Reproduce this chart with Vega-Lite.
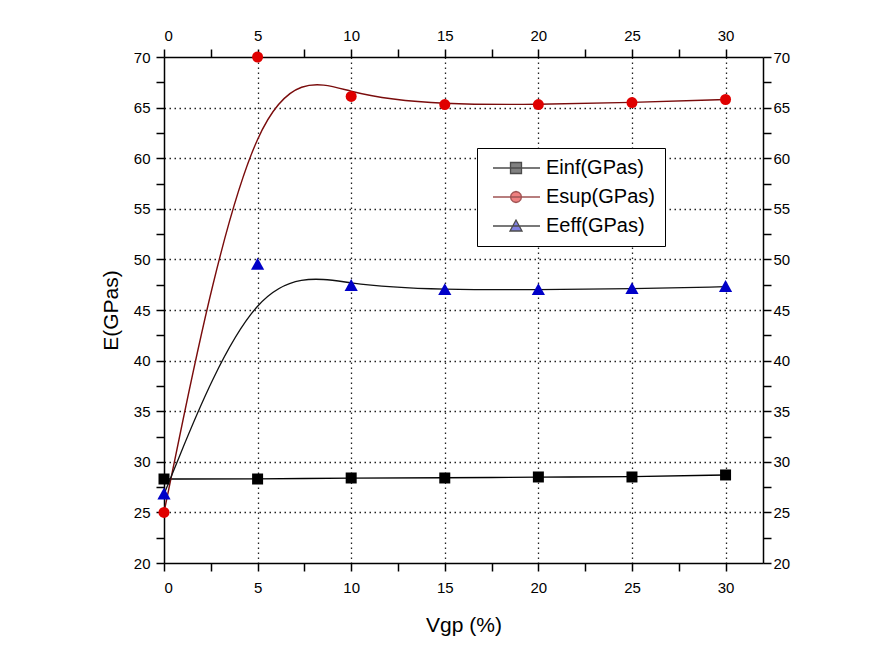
{
  "$schema": "https://vega.github.io/schema/vega-lite/v6.json",
  "width": 599,
  "height": 506,
  "autosize": {"type": "none"},
  "padding": {"left": 164, "top": 57, "right": 110, "bottom": 88},
  "background": "white",
  "data": {
    "values": [
      {"vgp": 0, "E": 28.3, "series": "Einf(GPas)"},
      {"vgp": 5, "E": 28.3, "series": "Einf(GPas)"},
      {"vgp": 10, "E": 28.4, "series": "Einf(GPas)"},
      {"vgp": 15, "E": 28.4, "series": "Einf(GPas)"},
      {"vgp": 20, "E": 28.5, "series": "Einf(GPas)"},
      {"vgp": 25, "E": 28.5, "series": "Einf(GPas)"},
      {"vgp": 30, "E": 28.7, "series": "Einf(GPas)"},
      {"vgp": 0, "E": 25.0, "series": "Esup(GPas)"},
      {"vgp": 5, "E": 70.0, "series": "Esup(GPas)"},
      {"vgp": 10, "E": 66.1, "series": "Esup(GPas)"},
      {"vgp": 15, "E": 65.3, "series": "Esup(GPas)"},
      {"vgp": 20, "E": 65.3, "series": "Esup(GPas)"},
      {"vgp": 25, "E": 65.5, "series": "Esup(GPas)"},
      {"vgp": 30, "E": 65.8, "series": "Esup(GPas)"},
      {"vgp": 0, "E": 26.8, "series": "Eeff(GPas)"},
      {"vgp": 5, "E": 49.5, "series": "Eeff(GPas)"},
      {"vgp": 10, "E": 47.4, "series": "Eeff(GPas)"},
      {"vgp": 15, "E": 47.0, "series": "Eeff(GPas)"},
      {"vgp": 20, "E": 47.0, "series": "Eeff(GPas)"},
      {"vgp": 25, "E": 47.1, "series": "Eeff(GPas)"},
      {"vgp": 30, "E": 47.3, "series": "Eeff(GPas)"}
    ]
  },
  "resolve": {"axis": {"x": "independent", "y": "independent"}},
  "layer": [
    {
      "transform": [{"filter": "datum.series === 'Einf(GPas)'"}],
      "mark": {"type": "line", "interpolate": "basis", "strokeWidth": 1.4, "color": "#000000"},
      "encoding": {
        "x": {
          "field": "vgp", "type": "quantitative",
          "scale": {"domain": [0, 32], "nice": false, "zero": false},
          "axis": {
            "orient": "bottom", "title": "Vgp (%)",
            "values": [0, 2.5, 5, 7.5, 10, 12.5, 15, 17.5, 20, 22.5, 25, 27.5, 30],
            "labelExpr": "datum.value % 5 === 0 ? datum.label : ''",
            "tickSize": 8, "labelPadding": 9, "titlePadding": 19,
            "grid": true,
            "gridOpacity": {"condition": {"test": "datum.value % 5 === 0 && datum.value > 0", "value": 1}, "value": 0},
            "encode": {
              "ticks": {"update": {"y2": {"signal": "datum.value % 5 === 0 ? 8 : 4"}}}
            }
          }
        },
        "y": {
          "field": "E", "type": "quantitative",
          "scale": {"domain": [20, 70], "nice": false, "zero": false},
          "axis": {
            "orient": "left", "title": "E(GPas)",
            "values": [20, 22.5, 25, 27.5, 30, 32.5, 35, 37.5, 40, 42.5, 45, 47.5, 50, 52.5, 55, 57.5, 60, 62.5, 65, 67.5, 70],
            "labelExpr": "datum.value % 5 === 0 ? datum.label : ''",
            "tickSize": 8, "labelPadding": 6, "titlePadding": 12,
            "grid": true,
            "gridOpacity": {"condition": {"test": "datum.value % 5 === 0 && datum.value > 20 && datum.value < 70", "value": 1}, "value": 0},
            "encode": {
              "ticks": {"update": {"x2": {"signal": "datum.value % 5 === 0 ? -8 : -4"}}}
            }
          }
        }
      }
    },
    {
      "transform": [{"filter": "datum.series === 'Esup(GPas)'"}],
      "mark": {"type": "line", "interpolate": "basis", "strokeWidth": 1.4, "color": "#7a0c0c"},
      "encoding": {
        "x": {"field": "vgp", "type": "quantitative", "axis": null},
        "y": {"field": "E", "type": "quantitative", "axis": null}
      }
    },
    {
      "transform": [{"filter": "datum.series === 'Eeff(GPas)'"}],
      "mark": {"type": "line", "interpolate": "basis", "strokeWidth": 1.3, "color": "#111111"},
      "encoding": {
        "x": {"field": "vgp", "type": "quantitative", "axis": null},
        "y": {"field": "E", "type": "quantitative", "axis": null}
      }
    },
    {
      "transform": [{"filter": "datum.series === 'Einf(GPas)'"}],
      "mark": {"type": "point", "filled": true, "opacity": 1, "size": 121, "shape": "square", "color": "#000000"},
      "encoding": {
        "x": {"field": "vgp", "type": "quantitative", "axis": null},
        "y": {"field": "E", "type": "quantitative", "axis": null}
      }
    },
    {
      "transform": [{"filter": "datum.series === 'Esup(GPas)'"}],
      "mark": {"type": "point", "filled": true, "opacity": 1, "size": 121, "shape": "circle", "color": "#e00000"},
      "encoding": {
        "x": {"field": "vgp", "type": "quantitative", "axis": null},
        "y": {"field": "E", "type": "quantitative", "axis": null}
      }
    },
    {
      "transform": [{"filter": "datum.series === 'Eeff(GPas)'"}],
      "mark": {"type": "point", "filled": true, "opacity": 1, "size": 121, "shape": "M-1.2,0.95H1.2L0,-1.2Z", "color": "#0000c8"},
      "encoding": {
        "x": {"field": "vgp", "type": "quantitative", "axis": null},
        "y": {"field": "E", "type": "quantitative", "axis": null}
      }
    },
    {
      "transform": [{"filter": "datum.E > 1000"}],
      "mark": {"type": "point", "filled": true, "size": 100, "strokeWidth": 1.3},
      "encoding": {
        "x": {
          "field": "vgp", "type": "quantitative",
          "axis": {
            "orient": "top", "title": null,
            "values": [0, 2.5, 5, 7.5, 10, 12.5, 15, 17.5, 20, 22.5, 25, 27.5, 30],
            "labelExpr": "datum.value % 5 === 0 ? datum.label : ''",
            "tickSize": 8, "labelPadding": 6, "grid": false,
            "encode": {
              "ticks": {"update": {"y2": {"signal": "datum.value % 5 === 0 ? 7 : 3.5"}}}
            }
          }
        },
        "y": {
          "field": "E", "type": "quantitative",
          "axis": {
            "orient": "right", "title": null,
            "values": [20, 22.5, 25, 27.5, 30, 32.5, 35, 37.5, 40, 42.5, 45, 47.5, 50, 52.5, 55, 57.5, 60, 62.5, 65, 67.5, 70],
            "labelExpr": "datum.value % 5 === 0 ? datum.label : ''",
            "tickSize": 8, "labelPadding": 2, "grid": false,
            "encode": {
              "ticks": {"update": {"x2": {"signal": "datum.value % 5 === 0 ? -7 : -3.5"}}}
            }
          }
        },
        "color": {
          "field": "series", "type": "nominal",
          "scale": {"domain": ["Einf(GPas)", "Esup(GPas)", "Eeff(GPas)"], "range": ["#000000", "#e00000", "#0000c8"]},
          "legend": {
            "title": null,
            "orient": "none", "legendX": 313, "legendY": 91,
            "padding": 10, "rowPadding": 9, "symbolSize": 100, "labelOffset": 39,
            "symbolOpacity": 1, "symbolStrokeWidth": 1.3,
            "labelFont": "Liberation Sans", "labelFontSize": 20, "labelColor": "#000000", "labelLimit": 400,
            "labelExpr": "datum.label + '      '",
            "strokeColor": "#000000", "fillColor": "#ffffff"
          }
        },
        "shape": {
          "field": "series", "type": "nominal",
          "scale": {
            "domain": ["Einf(GPas)", "Esup(GPas)", "Eeff(GPas)"],
            "range": [
              "M-0.8,0H8.6M2.7,-1.1H4.9V1.1H2.7Z",
              "M-0.8,0H8.6M4.9,0L4.75,0.55L4.35,0.95L3.8,1.1L3.25,0.95L2.85,0.55L2.7,0L2.85,-0.55L3.25,-0.95L3.8,-1.1L4.35,-0.95L4.75,-0.55Z",
              "M-0.8,0H8.6M2.6,1H5L3.8,-1.2Z"
            ]
          }
        },
        "stroke": {
          "field": "series", "type": "nominal",
          "scale": {"domain": ["Einf(GPas)", "Esup(GPas)", "Eeff(GPas)"], "range": ["#000000", "#7a0c0c", "#000000"]}
        }
      }
    }
  ],
  "config": {
    "view": {"stroke": null},
    "axis": {
      "domainColor": "#000000", "domainWidth": 1.5,
      "tickColor": "#000000", "tickWidth": 1.5,
      "labelFont": "Liberation Sans", "labelFontSize": 15, "labelColor": "#000000",
      "titleFont": "Liberation Sans", "titleFontSize": 21, "titleFontWeight": "normal", "titleColor": "#000000",
      "gridColor": "#222222", "gridWidth": 1.3, "gridDash": [1.5, 3.5]
    }
  }
}
